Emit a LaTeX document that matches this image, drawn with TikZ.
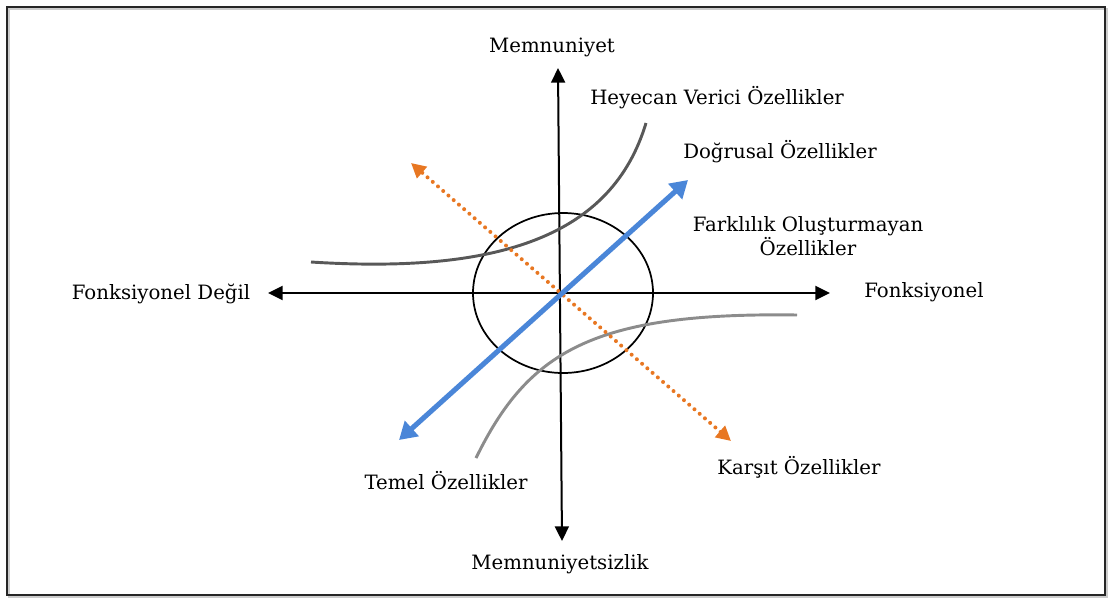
\documentclass[tikz,border=0pt]{standalone}
\usepackage{fontspec}
\setmainfont{DejaVu Serif}
\usetikzlibrary{arrows.meta}

\definecolor{kanoblue}{RGB}{74,134,216}
\definecolor{kanoorange}{RGB}{232,119,34}
\definecolor{curvedark}{RGB}{88,88,88}
\definecolor{curvelight}{RGB}{140,140,140}

\begin{document}
\begin{tikzpicture}[x=0.75pt,y=-0.75pt,
    lbl/.style={font=\fontsize{14.8}{18}\selectfont, inner sep=0pt, align=center},
    axis/.style={line width=1.5pt, {Triangle[length=11pt,width=10.5pt]}-{Triangle[length=11pt,width=10.5pt]}},
    bluearrow/.style={kanoblue, line width=3.8pt, {Triangle[length=13pt,width=15pt]}-{Triangle[length=13pt,width=15pt]}},
    dotarrow/.style={kanoorange, line width=3pt, line cap=round, dash pattern=on 0pt off 5.2pt,
        {Triangle[length=11pt,width=11pt,line cap=butt]}-{Triangle[length=11pt,width=11pt,line cap=butt]}}]
    \useasboundingbox (0,0) rectangle (1113,597);
    % frame with a soft shadow
    \draw[gray!40, line width=1.5pt] (9,9) rectangle (1107,597);
    \draw[black!85, line width=1.6pt] (7,7) rectangle (1105,595);

    % axis ends
    \coordinate (top) at (558,68);
    \coordinate (bottom) at (562,541);
    \coordinate (left) at (268,293);
    \coordinate (right) at (830,293);
    \coordinate (origin) at (563,293);

    % labels
    \node[lbl] (sat) at (552,47) {Memnuniyet};
    \node[lbl] (dissat) at (560,564) {Memnuniyetsizlik};
    \node[lbl] (nonfunc) at (161,294) {Fonksiyonel Değil};
    \node[lbl] (func) at (924,292) {Fonksiyonel};
    \node[lbl, anchor=west] (exciting) at (590,98) {Heyecan Verici Özellikler};
    \node[lbl, anchor=west] (linear) at (683,152) {Doğrusal Özellikler};
    \node[lbl] (indiff) at (808,236) {Farklılık Oluşturmayan\\Özellikler};
    \node[lbl] (basic) at (446,481) {Temel Özellikler};
    \node[lbl] (reverse) at (799,467) {Karşıt Özellikler};

    % axes and indifference zone
    \draw[axis] (bottom) -- (top);
    \draw[axis] (left) -- (right);
    \draw[line width=1.3pt] (origin) ellipse (90 and 80);

    % curves
    \draw[curvedark, line width=2.2pt] (311,262) .. controls (500,274) and (612,236) .. (646,123);
    \draw[curvelight, line width=2.2pt] (476,458) .. controls (528,352) and (592,312) .. (797,315);

    % linear and reverse attributes
    \coordinate (blue1) at (399,440);
    \coordinate (blue2) at (688,180);
    \coordinate (orange1) at (411,163);
    \coordinate (orange2) at (731,441);
    \draw[dotarrow] (orange2) -- (orange1);
    \draw[bluearrow] (blue1) -- (blue2);
\end{tikzpicture}
\end{document}
